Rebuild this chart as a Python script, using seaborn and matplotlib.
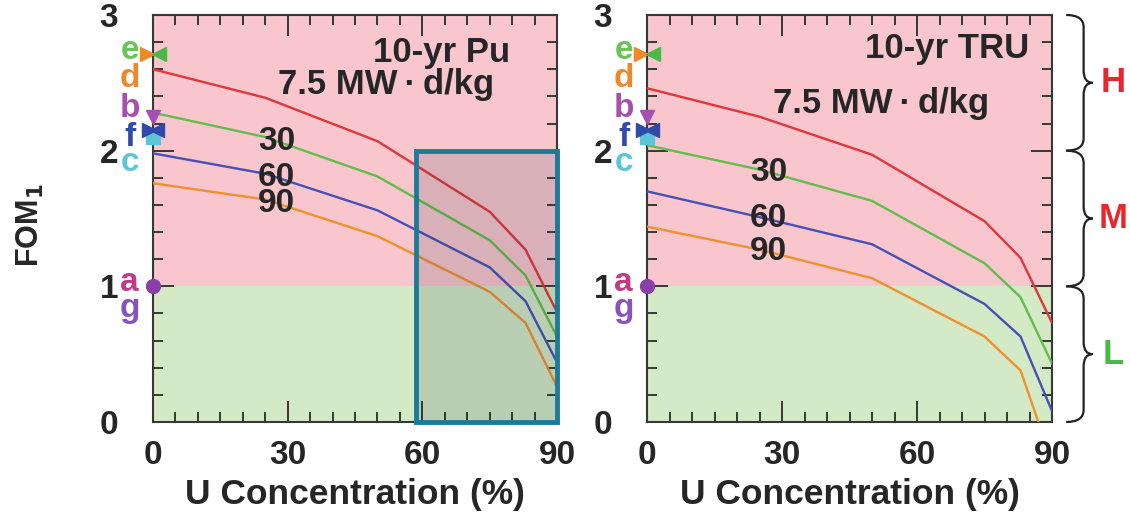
import matplotlib
matplotlib.use("Agg")
import matplotlib.pyplot as plt
import matplotlib.transforms as mtransforms
from matplotlib.path import Path
from matplotlib.patches import PathPatch, Rectangle
from matplotlib.ticker import MultipleLocator
import numpy as np
import pandas as pd
import seaborn as sns

# ---------------------------------------------------------------- data
u_conc = [0, 25, 50, 75, 83, 90]
burnups = ["7.5", "30", "60", "90"]

pu_fom = {
    "7.5": [2.60, 2.39, 2.07, 1.55, 1.27, 0.81],
    "30":  [2.28, 2.10, 1.81, 1.34, 1.08, 0.63],
    "60":  [1.98, 1.83, 1.56, 1.14, 0.89, 0.44],
    "90":  [1.76, 1.64, 1.37, 0.96, 0.73, 0.26],
}
tru_fom = {
    "7.5": [2.46, 2.25, 1.97, 1.48, 1.21, 0.73],
    "30":  [2.04, 1.86, 1.63, 1.17, 0.92, 0.43],
    "60":  [1.70, 1.51, 1.31, 0.87, 0.63, 0.08],
    "90":  [1.44, 1.27, 1.06, 0.63, 0.38, -0.29],
}

# reference materials marked on the y axis
ref_letters = ["e", "d", "b", "f", "c", "a", "g"]
ref_letter_y = [2.74, 2.53, 2.31, 2.10, 1.91, 1.03, 0.84]
ref_letter_colors = ["#6cc35a", "#f0882a", "#a64fb0", "#2f4aa8", "#5cc6d8", "#c23a86", "#8455c0"]

ref_markers = [  # (x offset, y, marker, color)
    (-1.3, 2.71, ">", "#f0882a"),
    (1.3, 2.71, "<", "#4cb847"),
    (0.0, 2.25, "v", "#a64fb0"),
    (0.0, 2.10, "s", "#5cc6d8"),
    (-1.0, 2.15, ">", "#2f4aa8"),
    (1.0, 2.15, "<", "#2f4aa8"),
    (0.0, 1.00, "o", "#8a3fa8"),
]

zones = ["H", "M", "L"]
zone_bounds = [(2, 3), (1, 2), (0, 1)]
zone_colors = ["#e8262d", "#e8262d", "#4cb847"]

line_colors = {"7.5": "#e2363a", "30": "#62bd4a", "60": "#4650b8", "90": "#f0902f"}
pink, green = "#f8c6cc", "#d4e9c6"
spine_col = "#343a34"

# ---------------------------------------------------------------- style
sns.set_style("ticks")
plt.rcParams["font.family"] = ["Liberation Sans", "DejaVu Sans"]
plt.rcParams["font.weight"] = "bold"
plt.rcParams["mathtext.default"] = "bf"


def long_df(d):
    rows = []
    for b in burnups:
        for x, y in zip(u_conc, d[b]):
            rows.append({"U": x, "FOM": y, "burnup": b})
    return pd.DataFrame(rows)


def draw_brace(ax, y0, y1, xl, xm, xr, r=0.1):
    trans = mtransforms.blended_transform_factory(ax.transAxes, ax.transData)
    ym = (y0 + y1) / 2
    verts = [(xl, y0), (xm, y0), (xm, y0 + r),
             (xm, ym - r), (xm, ym), (xr, ym),
             (xm, ym), (xm, ym + r),
             (xm, y1 - r), (xm, y1), (xl, y1)]
    codes = [Path.MOVETO, Path.CURVE3, Path.CURVE3,
             Path.LINETO, Path.CURVE3, Path.CURVE3,
             Path.CURVE3, Path.CURVE3,
             Path.LINETO, Path.CURVE3, Path.CURVE3]
    ax.add_patch(PathPatch(Path(verts, codes), fill=False, lw=1.6, ec="#222222",
                           transform=trans, clip_on=False))


def panel(ax, d, title, title_xy, burn_xy, num_xy):
    ax.axhspan(1, 3, color=pink, zorder=0, lw=0)
    ax.axhspan(0, 1, color=green, zorder=0, lw=0)
    sns.lineplot(data=long_df(d), x="U", y="FOM", hue="burnup", palette=line_colors,
                 legend=False, ax=ax, lw=1.7, zorder=3)
    ax.set_xlim(0, 90)
    ax.set_ylim(0, 3)
    ax.xaxis.set_major_locator(MultipleLocator(30))
    ax.xaxis.set_minor_locator(MultipleLocator(5))
    ax.yaxis.set_major_locator(MultipleLocator(1))
    ax.yaxis.set_minor_locator(MultipleLocator(0.2))
    ax.tick_params(which="both", direction="in", top=True, right=True, color=spine_col, width=1.4)
    ax.tick_params(which="major", length=15, labelsize=24)
    ax.tick_params(which="minor", length=7)
    ax.tick_params(axis="y", which="major", pad=25)
    ax.tick_params(axis="x", which="major", pad=13)
    for s in ax.spines.values():
        s.set_color(spine_col)
        s.set_linewidth(1.5)
    ax.set_xlabel("U Concentration (%)", fontsize=25.5, fontweight="bold", labelpad=5)
    ax.set_ylabel("")

    ax.text(*title_xy, title, fontsize=25, ha="right", va="center", zorder=5)
    ax.text(*burn_xy, "7.5 MW\u2009\u00b7\u2009d/kg", fontsize=25, ha="center", va="center", zorder=5)
    for lab, (x, y) in zip(["30", "60", "90"], num_xy):
        ax.text(x, y, lab, fontsize=24, ha="center", va="center", zorder=5)

    # reference-material markers and letters
    trans = mtransforms.blended_transform_factory(ax.transAxes, ax.transData)
    for dx, y, m, c in ref_markers:
        ax.plot([dx], [y], marker=m, color=c, ms=10, mec=c, clip_on=False, zorder=6, ls="none")
    for lab, y, c in zip(ref_letters, ref_letter_y, ref_letter_colors):
        ax.text(-0.058, y, lab, color=c, fontsize=24, ha="center", va="center",
                transform=trans, clip_on=False)


fig = plt.figure(figsize=(11.3, 5.31), dpi=100)
ax1 = fig.add_axes([0.1354, 0.2053, 0.3575, 0.7665])
ax2 = fig.add_axes([0.5726, 0.2053, 0.3584, 0.7665])

panel(ax1, pu_fom, "10-yr Pu", (79.5, 2.72), (52, 2.49),
      [(27.5, 2.07), (27.5, 1.80), (27.5, 1.61)])
panel(ax2, tru_fom, "10-yr TRU", (85, 2.75), (52, 2.35),
      [(27, 1.84), (27, 1.50), (27, 1.26)])

# highlighted high-U region on the Pu panel
ax1.add_patch(Rectangle((58.6, 0), 31.4, 2.0, facecolor="#203040", alpha=0.14,
                        lw=0, zorder=4))
ax1.add_patch(Rectangle((58.6, 0), 31.4, 2.0, fill=False, ec="#1c7b97", lw=3.5,
                        zorder=7, clip_on=False))

# H / M / L braces
for z, (y0, y1), c in zip(zones, zone_bounds, zone_colors):
    draw_brace(ax2, y0, y1, 1.035, 1.078, 1.100, r=0.09)
    trans = mtransforms.blended_transform_factory(ax2.transAxes, ax2.transData)
    ax2.text(1.15, (y0 + y1) / 2, z, color=c, fontsize=25, ha="center", va="center",
             transform=trans, clip_on=False)

fig.text(0.027, 0.575, "FOM$_1$", rotation=90, fontsize=22, fontweight="bold",
         ha="center", va="center")

fig.savefig("out.png", dpi=100)
